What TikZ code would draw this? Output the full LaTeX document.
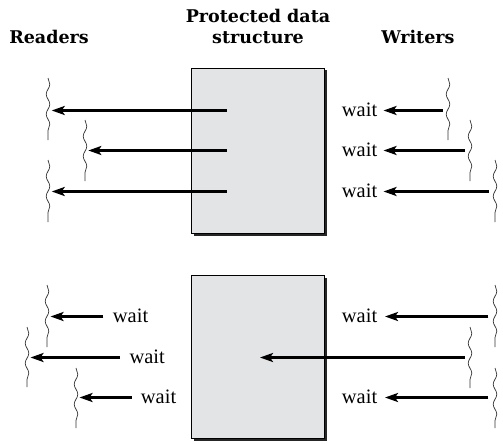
\documentclass[tikz,border=0pt]{standalone}
\usepackage{fontspec}
\setmainfont{Liberation Serif}
\newfontfamily\headfont{DejaVu Serif}
\usetikzlibrary{arrows.meta,decorations.pathmorphing,shadows}
\definecolor{boxgray}{HTML}{E3E4E6}
\begin{document}
\begin{tikzpicture}[x=1pt,y=-1pt,
  databox/.style={draw=black,line width=1.3pt,fill=boxgray,minimum width=133pt,
    drop shadow={shadow xshift=2.2pt,shadow yshift=-2.2pt,fill=black!85,opacity=1}},
  flow/.style={line width=2.8pt,-{Stealth[length=13pt,width=9pt,inset=3pt]}},
  thread/.style={line width=0.7pt,black!80,decorate,
    decoration={snake,segment length=20pt,amplitude=1.8pt}},
  waittext/.style={font=\fontsize{20.5}{22}\selectfont,inner sep=0pt,anchor=base west},
  heading/.style={font=\headfont\bfseries\fontsize{17.5}{20.5}\selectfont,align=center,
    inner sep=0pt,anchor=base}]
\useasboundingbox (0,0) rectangle (503,444);

% headings
\node[heading] (hr) at (49,43.5) {Readers};
\node[heading] (hp) at (258,43.5) {Protected data\\structure};
\node[heading] (hw) at (418,43.5) {Writers};

% boxes
\node[databox,minimum height=165pt] (top) at (258,150.8) {};
\node[databox,minimum height=163pt] (bot) at (258,356.8) {};

% ---------- top: readers ----------
\coordinate (ra1) at (48,78);  \coordinate (rb1) at (48,140);
\coordinate (ra2) at (85,120); \coordinate (rb2) at (85,181);
\coordinate (ra3) at (48,160); \coordinate (rb3) at (48,222);
\draw[thread] (ra1) -- (rb1);
\draw[thread] (ra2) -- (rb2);
\draw[thread] (ra3) -- (rb3);
\coordinate (s1) at (226.7,110.5); \coordinate (t1) at (51.7,110.5);
\coordinate (s2) at (226.7,150.5); \coordinate (t2) at (88.3,150.5);
\coordinate (s3) at (226.7,191.5); \coordinate (t3) at (51.7,191.5);
\draw[flow] (s1) -- (t1);
\draw[flow] (s2) -- (t2);
\draw[flow] (s3) -- (t3);

% ---------- top: writers ----------
\coordinate (wa1) at (448,78);  \coordinate (wb1) at (448,140);
\coordinate (wa2) at (470,120); \coordinate (wb2) at (470,181);
\coordinate (wa3) at (495,160); \coordinate (wb3) at (495,222);
\draw[thread] (wa1) -- (wb1);
\draw[thread] (wa2) -- (wb2);
\draw[thread] (wa3) -- (wb3);
\node[waittext] (tw1) at (341.7,116.5) {wait};
\node[waittext] (tw2) at (341.7,156.5) {wait};
\node[waittext] (tw3) at (341.7,197.5) {wait};
\coordinate (u1) at (443,110.5);
\coordinate (u2) at (465,150.5);
\coordinate (u3) at (489,191.5);
\draw[flow] (u1) -- (383.5,110.5);
\draw[flow] (u2) -- (383.5,150.5);
\draw[flow] (u3) -- (383.5,191.5);

% ---------- bottom: readers ----------
\coordinate (rc1) at (47,285);  \coordinate (rd1) at (47,347);
\coordinate (rc2) at (27,327);  \coordinate (rd2) at (27,387);
\coordinate (rc3) at (76,368);  \coordinate (rd3) at (76,428);
\draw[thread] (rc1) -- (rd1);
\draw[thread] (rc2) -- (rd2);
\draw[thread] (rc3) -- (rd3);
\node[waittext] (bw1) at (112.7,322.5) {wait};
\node[waittext] (bw2) at (129.3,363.5) {wait};
\node[waittext] (bw3) at (140.7,403.5) {wait};
\coordinate (b1) at (103.3,316.5);
\coordinate (b2) at (120,357.5);
\coordinate (b3) at (131.7,397.5);
\coordinate (p1) at (50.5,316.5);
\coordinate (p2) at (30.5,357.5);
\coordinate (p3) at (79.5,397.5);
\draw[flow] (b1) -- (p1);
\draw[flow] (b2) -- (p2);
\draw[flow] (b3) -- (p3);

% ---------- bottom: writers ----------
\coordinate (wc1) at (495,285);  \coordinate (wd1) at (495,347);
\coordinate (wc2) at (470,327);  \coordinate (wd2) at (470,388);
\coordinate (wc3) at (495,368);  \coordinate (wd3) at (495,428);
\draw[thread] (wc1) -- (wd1);
\draw[thread] (wc2) -- (wd2);
\draw[thread] (wc3) -- (wd3);
\node[waittext] (vw1) at (341.7,322.5) {wait};
\node[waittext] (vw3) at (341.7,403.5) {wait};
\coordinate (q1) at (488.3,316.5);
\coordinate (q2) at (465,357.5);
\coordinate (q3) at (488.3,397.5);
\coordinate (qt) at (260,357.5);
\draw[flow] (q1) -- (385,316.5);
\draw[flow] (q2) -- (qt);
\draw[flow] (q3) -- (385,397.5);
\end{tikzpicture}
\end{document}
